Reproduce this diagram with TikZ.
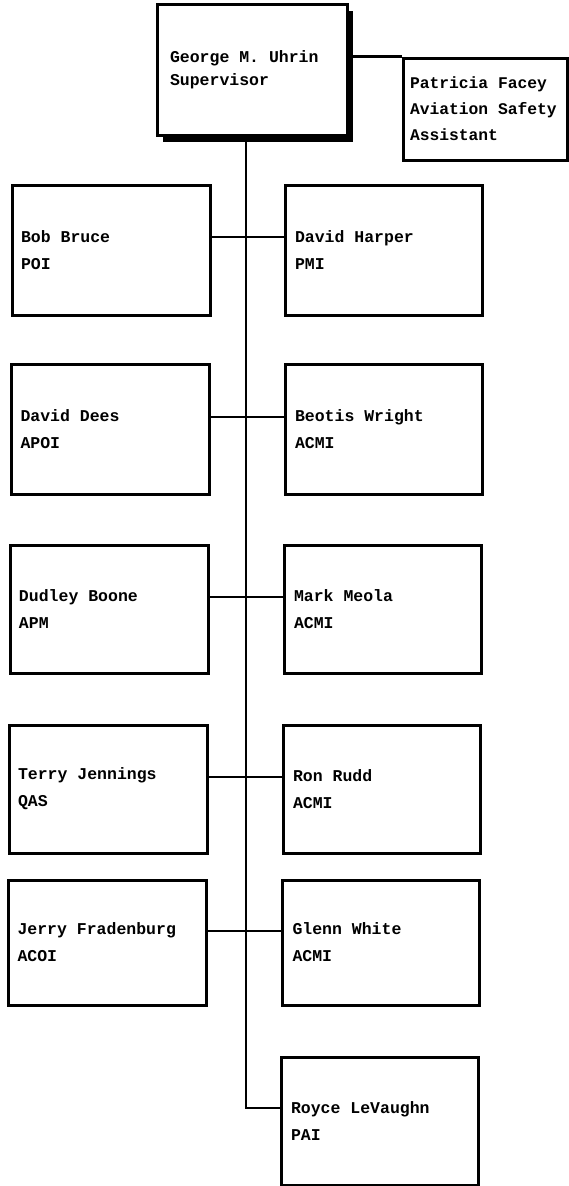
\documentclass[tikz,border=0pt]{standalone}
\usepackage{fontspec}
\setmonofont{Liberation Mono}
\usetikzlibrary{shadows,backgrounds}
\newcommand{\monofix}{\spaceskip=0.6em\relax\xspaceskip=0.6em\relax}
\begin{document}
\begin{tikzpicture}[x=1pt,y=-1pt,
  box/.style={draw, line width=3pt, fill=white, rectangle, inner ysep=0pt,
    align=left, font={\ttfamily\bfseries\fontsize{16.5}{27}\selectfont},
    execute at begin node={\monofix}},
  lbox/.style={box, inner xsep=9pt, minimum width=198pt, text width=180pt},
  rbox/.style={box, inner xsep=10pt, minimum width=197pt, text width=177pt},
  link/.style={line width=2.8pt}]
\useasboundingbox (0,0) rectangle (568,1186);
% supervisor
\node[box, inner xsep=13pt, minimum width=190pt, text width=164pt, minimum height=131pt,
  font={\ttfamily\bfseries\fontsize{16.5}{23}\selectfont},
  drop shadow={shadow xshift=6pt, shadow yshift=-7pt, opacity=1, fill=black}]
  (sup) at (252,69.5) {George M. Uhrin\\Supervisor};
\node[box, inner xsep=7pt, minimum width=164pt, text width=150pt, minimum height=102pt,
  font={\ttfamily\bfseries\fontsize{16.3}{26}\selectfont}]
  (pat) at (485,109) {Patricia Facey\\Aviation Safety\\Assistant};
% row 1
\node[lbox, minimum height=130pt] (bob) at (111,250) {Bob Bruce\\POI};
\node[rbox, minimum height=130pt] (harper) at (383.5,250) {David Harper\\PMI};
% row 2
\node[lbox, minimum height=130pt] (dees) at (110.5,429) {David Dees\\APOI};
\node[rbox, minimum height=130pt] (wright) at (383.5,429) {Beotis Wright\\ACMI};
% row 3
\node[lbox, minimum height=128pt] (boone) at (109,609) {Dudley Boone\\APM};
\node[rbox, minimum height=128pt] (meola) at (382.5,609) {Mark Meola\\ACMI};
% row 4
\node[lbox, minimum height=128pt] (jennings) at (108,789) {Terry Jennings\\QAS};
\node[rbox, minimum height=128pt] (rudd) at (381.5,789) {Ron Rudd\\ACMI};
% row 5
\node[lbox, minimum height=125pt] (jerry) at (107.5,942.5) {Jerry Fradenburg\\ACOI};
\node[rbox, minimum height=125pt] (white) at (381,942.5) {Glenn White\\ACMI};
% last
\node[rbox, minimum height=128pt] (royce) at (379.5,1121) {Royce LeVaughn\\PAI};
\coordinate (bend) at (246,1108);
\begin{scope}[on background layer]
\draw[link] (sup.east |- pat.north) -- (pat.north west);
\draw[link] (sup.south -| bend) -- (bend) -- (royce.west |- bend);
\draw[link] ([yshift=13pt]bob.east) -- ([yshift=13pt]harper.west);
\draw[link] ([yshift=12pt]dees.east) -- ([yshift=12pt]wright.west);
\draw[link] ([yshift=12pt]boone.east) -- ([yshift=12pt]meola.west);
\draw[link] ([yshift=12pt]jennings.east) -- ([yshift=12pt]rudd.west);
\draw[link] ([yshift=11.5pt]jerry.east) -- ([yshift=11.5pt]white.west);
\end{scope}
\end{tikzpicture}
\end{document}
